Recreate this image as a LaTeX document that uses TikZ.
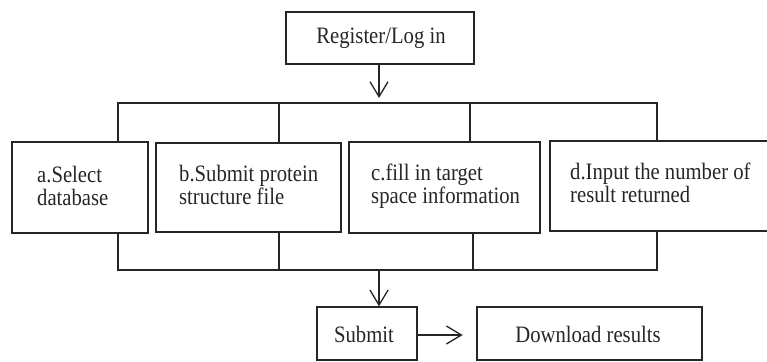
\documentclass[tikz,border=0pt]{standalone}
\usepackage{fontspec}
\setmainfont[FakeStretch=0.88]{Liberation Serif}
\usetikzlibrary{arrows.meta}
\begin{document}
\begin{tikzpicture}[x=1pt,y=-1pt,
  box/.style={draw=black!85, line width=1.3pt, rectangle, inner sep=0pt},
  lbl/.style={align=left, inner sep=0pt, font=\fontsize{23.5}{22.5}\selectfont, text=black!85},
  ctr/.style={inner sep=0pt, font=\fontsize{23.5}{22.5}\selectfont, text=black!85},
  conn/.style={draw=black!85, line width=1.3pt},
  arr/.style={conn, -{Straight Barb[length=15pt,width=18pt,line width=1.3pt]}}]
\useasboundingbox (0,0) rectangle (767,361);
% top box
\node[box, minimum width=188pt, minimum height=52pt] (reg) at (380,38) {};
\node[ctr] (regt) at (381,38) {Register/Log in};
% four boxes
\node[box, minimum width=136pt, minimum height=91pt] (a) at (80,187.5) {};
\node[box, minimum width=185pt, minimum height=89pt] (b) at (248.5,187.5) {};
\node[box, minimum width=191pt, minimum height=91pt] (c) at (444.5,187.5) {};
\node[box, minimum width=240pt, minimum height=90pt] (d) at (670,186) {};
\node[lbl, anchor=west] (at) at (37,186) {a.Select\\database};
\node[lbl, anchor=west] (bt) at (179,185) {b.Submit protein\\structure file};
\node[lbl, anchor=west] (ct) at (371,186) {c.fill in target\\space information};
\node[lbl, anchor=west] (dt) at (570,183) {d.Input the number of\\result returned};
% bottom boxes
\node[box, minimum width=100pt, minimum height=53pt] (sub) at (367,333.5) {};
\node[ctr] (subt) at (364,334) {Submit};
\node[box, minimum width=225pt, minimum height=53pt] (dl) at (589.5,333.5) {};
\node[ctr] (dlt) at (588,334) {Download results};
% coordinates for bars
\coordinate (top1) at (118,103);
\coordinate (top4) at (657,103);
\coordinate (bot1) at (118,270);
\coordinate (bot4) at (657,270);
% top connectors
\draw[arr] (reg.south -| 379,0) -- (379,98);
\draw[conn] (top1 |- a.north) -- (top1) -- (top4) -- (top4 |- d.north);
\draw[conn] (279,103) -- (279,0 |- b.north);
\draw[conn] (470,103) -- (470,0 |- c.north);
% bottom connectors
\draw[conn] (bot1 |- a.south) -- (bot1) -- (bot4) -- (bot4 |- d.south);
\draw[conn] (279,0 |- b.south) -- (279,270);
\draw[conn] (473,0 |- c.south) -- (473,270);
\draw[arr] (379,270) -- (379,0 |- sub.north);
\draw[arr] (sub.east) ++(0,1.5) -- ++(45,0);
\end{tikzpicture}
\end{document}
